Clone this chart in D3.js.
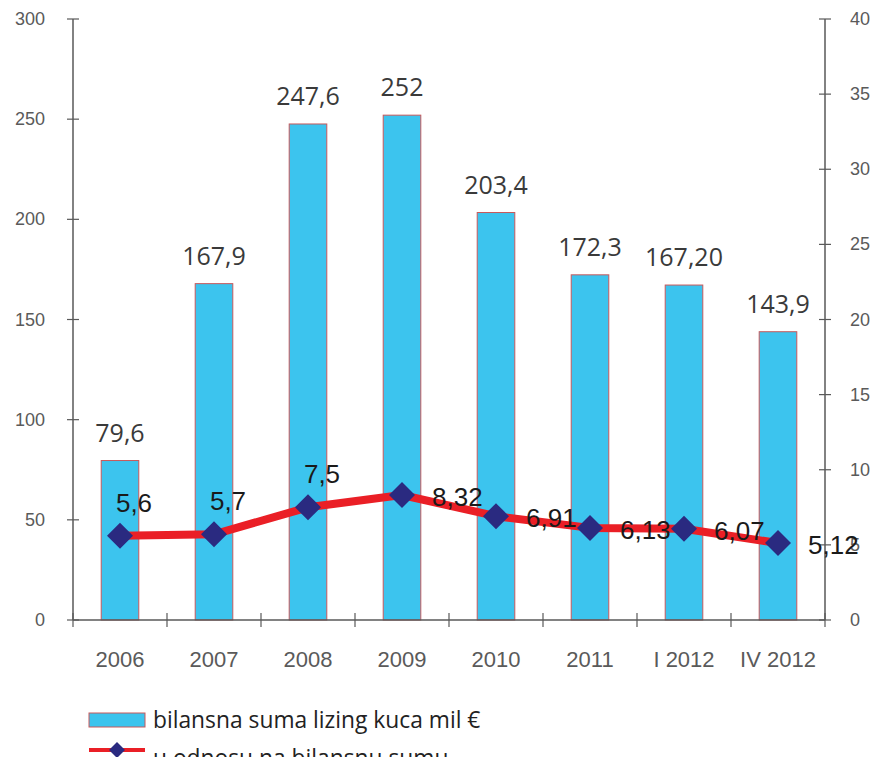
<!DOCTYPE html>
<meta charset="utf-8" />
<script src="https://d3js.org/d3.v7.min.js"></script>
<body style="margin:0;background:#fff">
  <div id="my_dataviz"></div>
  <script>
    // chart values
    const categories = ["2006", "2007", "2008", "2009", "2010", "2011", "I 2012", "IV 2012"];
    const bilansnaSuma = [79.6, 167.9, 247.6, 252, 203.4, 172.3, 167.2, 143.9];
    const bilansnaLabels = ["79,6", "167,9", "247,6", "252", "203,4", "172,3", "167,20", "143,9"];
    const udio = [5.6, 5.7, 7.5, 8.32, 6.91, 6.13, 6.07, 5.12];
    const udioLabels = ["5,6", "5,7", "7,5", "8,32", "6,91", "6,13", "6,07", "5,12"];
    const udioPlacement = ["above", "above", "above", "right", "right", "right", "right", "right"];
    const leftTicks = [0, 50, 100, 150, 200, 250, 300];
    const rightTicks = [0, 5, 10, 15, 20, 25, 30, 35, 40];
    const legendNames = ["bilansna suma lizing kuca mil €", "u odnosu na bilansnu sumu..."];

    var W = 878, H = 757;
    var margin = { top: 19, left: 73, right: 53 },
      plotBottom = 620;

    var svg = d3.select("#my_dataviz").append("svg")
      .attr("width", W).attr("height", H)
      .style("display", "block");

    var x = d3.scaleBand().domain(categories).range([margin.left, W - margin.right]);
    var yL = d3.scaleLinear().domain([0, 300]).range([plotBottom, margin.top]);
    var yR = d3.scaleLinear().domain([0, 40]).range([plotBottom, margin.top]);

    var axisColor = "#595959", tickText = "#5a5a5a";

    // bars
    var barW = x.bandwidth() * 0.4;
    svg.selectAll("rect.bar").data(bilansnaSuma).enter().append("rect")
      .attr("class", "bar")
      .attr("x", (d, i) => x(categories[i]) + x.bandwidth() / 2 - barW / 2)
      .attr("y", d => yL(d))
      .attr("width", barW)
      .attr("height", d => plotBottom - yL(d))
      .attr("fill", "#3cc4ee")
      .attr("stroke", "#c9585a")
      .attr("stroke-width", 1);

    // bar labels
    svg.selectAll("text.barlab").data(bilansnaSuma).enter().append("text")
      .attr("x", (d, i) => x(categories[i]) + x.bandwidth() / 2)
      .attr("y", d => yL(d) - 19)
      .attr("text-anchor", "middle")
      .style("font-family", "'Open Sans', sans-serif")
      .style("font-size", "25px")
      .style("fill", "#3a3a3a")
      .text((d, i) => bilansnaLabels[i]);

    // left axis
    svg.append("line").attr("x1", margin.left).attr("x2", margin.left)
      .attr("y1", margin.top).attr("y2", plotBottom)
      .attr("stroke", axisColor).attr("stroke-width", 1.5);
    leftTicks.forEach(function (t) {
      svg.append("line").attr("x1", margin.left - 6).attr("x2", margin.left + 6)
        .attr("y1", yL(t)).attr("y2", yL(t)).attr("stroke", axisColor).attr("stroke-width", 1.2);
      svg.append("text").attr("x", margin.left - 28).attr("y", yL(t) + 6)
        .attr("text-anchor", "end")
        .style("font-family", "'Liberation Sans', Arial, sans-serif")
        .style("font-size", "18px").style("fill", tickText)
        .text(t);
    });

    // right axis
    var xr = W - margin.right;
    svg.append("line").attr("x1", xr).attr("x2", xr)
      .attr("y1", margin.top).attr("y2", plotBottom)
      .attr("stroke", axisColor).attr("stroke-width", 1.5);
    rightTicks.forEach(function (t) {
      svg.append("line").attr("x1", xr - 6).attr("x2", xr + 6)
        .attr("y1", yR(t)).attr("y2", yR(t)).attr("stroke", axisColor).attr("stroke-width", 1.2);
      svg.append("text").attr("x", xr + 25).attr("y", yR(t) + 6)
        .attr("text-anchor", "start")
        .style("font-family", "'Liberation Sans', Arial, sans-serif")
        .style("font-size", "18px").style("fill", tickText)
        .text(t);
    });

    // x axis
    svg.append("line").attr("x1", margin.left).attr("x2", xr)
      .attr("y1", plotBottom).attr("y2", plotBottom)
      .attr("stroke", axisColor).attr("stroke-width", 1.5);
    categories.concat([null]).forEach(function (c, i) {
      var bx = c === null ? xr : x(c);
      svg.append("line").attr("x1", bx).attr("x2", bx)
        .attr("y1", plotBottom - 7).attr("y2", plotBottom + 7)
        .attr("stroke", axisColor).attr("stroke-width", 1.2);
    });
    svg.selectAll("text.xlab").data(categories).enter().append("text")
      .attr("x", d => x(d) + x.bandwidth() / 2)
      .attr("y", 667)
      .attr("text-anchor", "middle")
      .style("font-family", "'Liberation Sans', Arial, sans-serif")
      .style("font-size", "22px").style("fill", tickText)
      .text(d => d);

    // line series
    var line = d3.line()
      .x((d, i) => x(categories[i]) + x.bandwidth() / 2)
      .y(d => yR(d));
    svg.append("path").datum(udio)
      .attr("d", line)
      .attr("fill", "none")
      .attr("stroke", "#ea1f26")
      .attr("stroke-width", 8)
      .attr("stroke-linejoin", "round");

    var dia = "M0,-13L13,0L0,13L-13,0Z";
    svg.selectAll("path.mark").data(udio).enter().append("path")
      .attr("transform", (d, i) => "translate(" + (x(categories[i]) + x.bandwidth() / 2) + "," + yR(d) + ")")
      .attr("d", dia)
      .attr("fill", "#2a2a80");

    svg.selectAll("text.linelab").data(udio).enter().append("text")
      .attr("x", (d, i) => x(categories[i]) + x.bandwidth() / 2 + (udioPlacement[i] === "above" ? 14 : 30))
      .attr("y", (d, i) => yR(d) + (udioPlacement[i] === "above" ? -24 : 11))
      .attr("text-anchor", (d, i) => udioPlacement[i] === "above" ? "middle" : "start")
      .style("font-family", "'Liberation Sans', Arial, sans-serif")
      .style("font-size", "26px")
      .style("fill", "#1a1a1a")
      .text((d, i) => udioLabels[i]);

    // legend
    var lg = svg.append("g");
    lg.append("rect").attr("x", 89).attr("y", 713).attr("width", 56).attr("height", 14)
      .attr("fill", "#3cc4ee").attr("stroke", "#c9585a").attr("stroke-width", 1);
    lg.append("text").attr("x", 153).attr("y", 728)
      .style("font-family", "'Open Sans', sans-serif")
      .style("font-size", "22.8px").style("fill", "#222")
      .text(legendNames[0]);
    lg.append("line").attr("x1", 89).attr("x2", 145).attr("y1", 750).attr("y2", 750)
      .attr("stroke", "#ea1f26").attr("stroke-width", 4);
    lg.append("path").attr("transform", "translate(117,750)")
      .attr("d", "M0,-8L8,0L0,8L-8,0Z").attr("fill", "#2a2a80");
    lg.append("text").attr("x", 153).attr("y", 766)
      .style("font-family", "'Open Sans', sans-serif")
      .style("font-size", "22.8px").style("fill", "#222")
      .text(legendNames[1]);
  </script>
</body>
